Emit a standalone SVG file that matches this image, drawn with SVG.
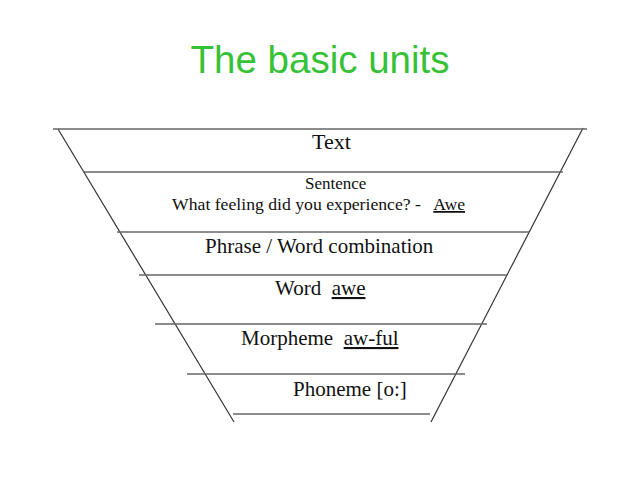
<svg xmlns="http://www.w3.org/2000/svg" width="640" height="480" viewBox="0 0 640 480">
<style>
.t{font-family:"Liberation Serif","Times New Roman",serif;fill:#111;}
.u{text-decoration:underline;}
.h{stroke:#666;stroke-width:1.4;fill:none;}
.s{stroke:#333;stroke-width:1.2;fill:none;}
</style>
<rect width="640" height="480" fill="#fff"/>
<text id="title" x="320" y="73" text-anchor="middle" font-family="'Liberation Sans',Arial,sans-serif" font-size="38.5" fill="#36c236">The basic units</text>
<g id="connectors">
<line class="s" x1="58" y1="129" x2="234" y2="422"/>
<line class="s" x1="583" y1="128" x2="431" y2="422"/>
<line class="h" x1="53" y1="129" x2="587" y2="129"/>
<line class="h" x1="83" y1="172" x2="563" y2="172"/>
<line class="h" x1="117" y1="232" x2="529" y2="232"/>
<line class="h" x1="139" y1="275" x2="507" y2="275"/>
<line class="h" x1="155" y1="324" x2="487" y2="324"/>
<line class="h" x1="187" y1="374" x2="465" y2="374"/>
<line class="h" x1="233" y1="414" x2="430" y2="414"/>
</g>
<g id="text-level"><text class="t" x="312" y="149" font-size="22">Text</text></g>
<g id="sentence-level">
<text class="t" x="305" y="189" font-size="17">Sentence</text>
<text class="t" x="172" y="210" font-size="17.7" xml:space="preserve">What feeling did you experience? -   <tspan class="u">Awe</tspan></text>
</g>
<g id="phrase-level"><text class="t" x="205" y="253" font-size="21">Phrase / Word combination</text></g>
<g id="word-level"><text class="t" x="275" y="295" font-size="21" xml:space="preserve">Word  <tspan class="u">awe</tspan></text></g>
<g id="morpheme-level"><text class="t" x="241" y="345" font-size="21" xml:space="preserve">Morpheme  <tspan class="u">aw-ful</tspan></text></g>
<g id="phoneme-level"><text class="t" x="293" y="396" font-size="21">Phoneme [o:]</text></g>
</svg>
